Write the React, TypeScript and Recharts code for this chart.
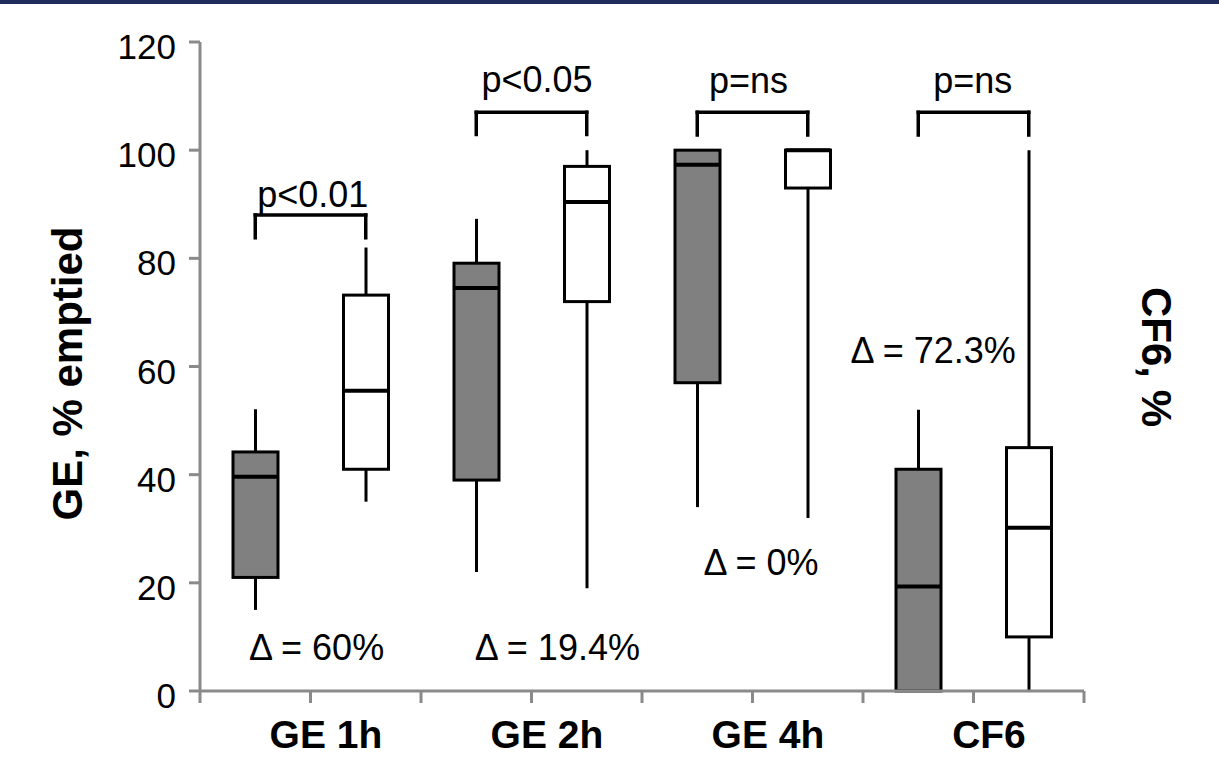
import React from 'react';
import { ComposedChart, Bar, XAxis, YAxis, ReferenceLine } from 'recharts';

// ---- data ----
const boxNames = ['GE 1h pre', 'GE 1h post', 'GE 2h pre', 'GE 2h post', 'GE 4h pre', 'GE 4h post', 'CF6 pre', 'CF6 post'];
const boxGroups = ['A', 'B', 'A', 'B', 'A', 'B', 'A', 'B'];
const whiskerLow = [15, 35, 22, 19, 34, 32, 0, 0];
const quartile1 = [21, 41, 39, 72, 57, 93, 0, 10];
const medians = [39.6, 55.5, 74.5, 90.4, 97.3, 100, 19.3, 30.2];
const quartile3 = [44.2, 73.2, 79.1, 97, 100, 100, 41, 45];
const whiskerHigh = [52.1, 82, 87.3, 100, 100, 100, 52, 100];

const categoryLabels = ['GE 1h', 'GE 2h', 'GE 4h', 'CF6'];
const yTicks = [0, 20, 40, 60, 80, 100, 120];

// brackets (y values in data units), one per category pair
const bracketTop = [88, 107, 107, 107];
const bracketBottom = [83.8, 102.9, 102.8, 102.8];

// p-value labels: baseline value and shift (in category widths) from the pair midpoint
const pLabels = ['p<0.01', 'p<0.05', 'p=ns', 'p=ns'];
const pLabelY = [89.5, 110.8, 110.6, 110.6];
const pLabelShift = [0.02, 0.05, -0.036, -0.007];

const deltaLabels = ['\u0394 = 60%', '\u0394 = 19.4%', '\u0394 = 0%', '\u0394 = 72.3%'];
const deltaY = [5.73, 5.73, 21.4, 60.65];
const deltaShift = [0.055, 0.234, 0.077, -0.365];

const categoryLabelShift = 0.14;

const groupFill: Record<string, string> = { A: '#808080', B: '#ffffff' };

const data = boxNames.map((name, i) => ({
  name,
  group: boxGroups[i],
  min: whiskerLow[i],
  q1: quartile1[i],
  median: medians[i],
  q3: quartile3[i],
  max: whiskerHigh[i],
}));

const FONT = '"Liberation Sans", Arial, sans-serif';
const AXIS = '#8a8a8a';

const BoxShape = (props: any) => {
  const { x, y, width, height, payload } = props;
  const h = Math.abs(height);
  const top = height >= 0 ? y : y + height;
  const bottom = top + h;
  const lo = payload.min;
  const hi = payload.max;
  const pix = (v: number) => bottom - ((v - lo) / (hi - lo)) * h;
  const cx = x + width / 2;
  const yq1 = pix(payload.q1);
  const yq3 = pix(payload.q3);
  const ym = pix(payload.median);
  return (
    <g>
      <line x1={cx} x2={cx} y1={pix(hi)} y2={yq3} stroke="#000" strokeWidth={3} />
      <line x1={cx} x2={cx} y1={yq1} y2={pix(lo)} stroke="#000" strokeWidth={3} />
      <rect x={x} y={yq3} width={width} height={Math.max(yq1 - yq3, 0)} fill={groupFill[payload.group]} stroke="#000" strokeWidth={3} />
      <line x1={x} x2={x + width} y1={ym} y2={ym} stroke="#000" strokeWidth={4} />
    </g>
  );
};

const YTick = (props: any) => {
  const { x, y, payload } = props;
  return (
    <text x={x} y={y + 17} textAnchor="end" fontFamily={FONT} fontSize={35} fill="#000">
      {payload.value}
    </text>
  );
};

const XTick = (props: any) => {
  const { x, y, payload, index, visibleTicksCount } = props;
  const off = payload.offset || 0;
  const left = x - off;
  const right = x + off;
  const isPairEnd = index % 2 === 1;
  return (
    <g>
      <line x1={left} x2={left} y1={y} y2={y + 12} stroke={AXIS} strokeWidth={3} />
      {index === visibleTicksCount - 1 && (
        <line x1={right} x2={right} y1={y} y2={y + 12} stroke={AXIS} strokeWidth={3} />
      )}
      {isPairEnd && (
        <text
          x={left + categoryLabelShift * 2 * off}
          y={y + 57}
          textAnchor="middle"
          fontFamily={FONT}
          fontSize={39}
          fontWeight="bold"
          fill="#000"
        >
          {categoryLabels[(index - 1) / 2]}
        </text>
      )}
    </g>
  );
};

const makeSegLabel = (text: string, shift: number) => (p: any) => {
  const vb = p.viewBox || {};
  const cx = vb.x + vb.width / 2 + shift * vb.width;
  return (
    <text x={cx} y={vb.y} textAnchor="middle" fontFamily={FONT} fontSize={36} fill="#000">
      {text}
    </text>
  );
};

export default function App() {
  return (
    <div style={{ position: 'absolute', left: 0, top: 0, width: 1219, height: 757, background: '#fff' }}>
      <div style={{ position: 'absolute', left: 0, top: 0, width: 1219, height: 4, background: '#202c5e' }} />
      <ComposedChart
        width={1219}
        height={757}
        data={data}
        margin={{ top: 42, right: 135, bottom: 0, left: 0 }}
      >
        <XAxis
          dataKey="name"
          type="category"
          height={66}
          stroke={AXIS}
          strokeWidth={3}
          tickLine={false}
          tickSize={0}
          tickMargin={0}
          tick={<XTick />}
          interval={0}
        />
        <YAxis
          type="number"
          domain={[0, 120]}
          ticks={yTicks}
          width={200}
          stroke={AXIS}
          strokeWidth={3}
          tickSize={11}
          tickMargin={13}
          tickLine={{ stroke: AXIS, strokeWidth: 3 }}
          tick={<YTick />}
          interval={0}
        />
        <Bar
          dataKey={(d: any) => [d.min, d.max]}
          barSize={45}
          shape={<BoxShape />}
          isAnimationActive={false}
        />
        {categoryLabels.map((_, i) => (
          <ReferenceLine
            key={`bh${i}`}
            segment={[{ x: boxNames[2 * i], y: bracketTop[i] }, { x: boxNames[2 * i + 1], y: bracketTop[i] }]}
            stroke="#000"
            strokeWidth={3.5}
            strokeLinecap="square"
          />
        ))}
        {categoryLabels.map((_, i) => (
          <ReferenceLine
            key={`bl${i}`}
            segment={[{ x: boxNames[2 * i], y: bracketTop[i] }, { x: boxNames[2 * i], y: bracketBottom[i] }]}
            stroke="#000"
            strokeWidth={3.5}
            strokeLinecap="square"
          />
        ))}
        {categoryLabels.map((_, i) => (
          <ReferenceLine
            key={`br${i}`}
            segment={[{ x: boxNames[2 * i + 1], y: bracketTop[i] }, { x: boxNames[2 * i + 1], y: bracketBottom[i] }]}
            stroke="#000"
            strokeWidth={3.5}
            strokeLinecap="square"
          />
        ))}
        {pLabels.map((t, i) => (
          <ReferenceLine
            key={`p${i}`}
            segment={[{ x: boxNames[2 * i], y: pLabelY[i] }, { x: boxNames[2 * i + 1], y: pLabelY[i] }]}
            stroke="none"
            label={makeSegLabel(t, pLabelShift[i])}
          />
        ))}
        {deltaLabels.map((t, i) => (
          <ReferenceLine
            key={`d${i}`}
            segment={[{ x: boxNames[2 * i], y: deltaY[i] }, { x: boxNames[2 * i + 1], y: deltaY[i] }]}
            stroke="none"
            label={makeSegLabel(t, deltaShift[i])}
          />
        ))}
        <text
          x={82}
          y={373.5}
          transform="rotate(-90, 82, 373.5)"
          textAnchor="middle"
          fontFamily={FONT}
          fontSize={42}
          fontWeight="bold"
          fill="#000"
        >
          GE, % emptied
        </text>
        <text
          x={1142}
          y={357}
          transform="rotate(90, 1142, 357)"
          textAnchor="middle"
          fontFamily={FONT}
          fontSize={42}
          fontWeight="bold"
          fill="#000"
        >
          CF6, %
        </text>
      </ComposedChart>
    </div>
  );
}
